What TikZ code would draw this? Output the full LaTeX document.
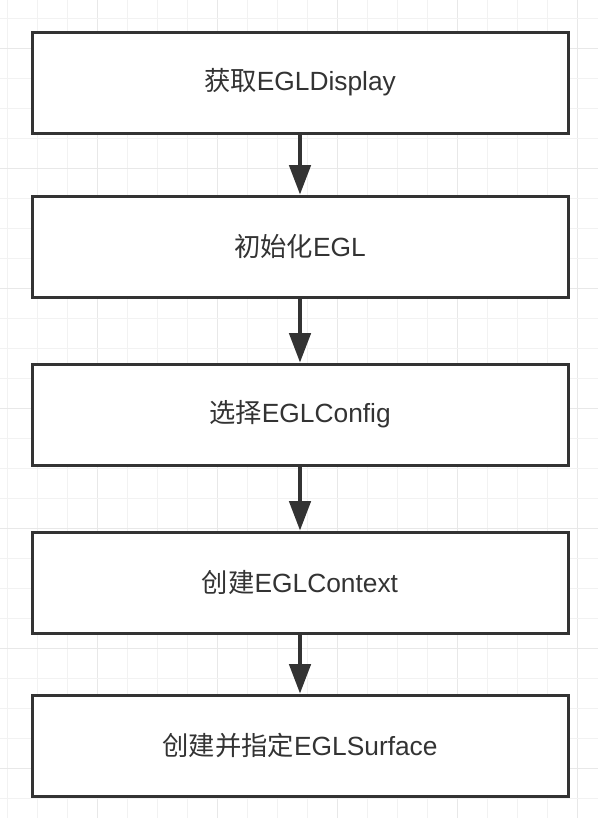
\documentclass[tikz,border=0pt]{standalone}
\usepackage{fontspec}
\setmainfont{Liberation Sans}
\newfontfamily\cjk{Noto Sans CJK SC}
\usetikzlibrary{arrows.meta}
\definecolor{gridlight}{HTML}{F2F2F2}
\definecolor{griddark}{HTML}{E8E8E8}
\definecolor{boxline}{HTML}{333333}
\definecolor{boxtext}{HTML}{333333}

\begin{document}
\begin{tikzpicture}[x=0.75pt,y=-0.75pt,
  stepbox/.style={draw=boxline,line width=2.25pt,fill=white,minimum width=402pt,minimum height=75.75pt,inner sep=0pt,text=boxtext,font=\fontsize{19.75}{24}\selectfont},
  flow/.style={draw=boxline,line width=2.6pt,-{Triangle[length=22pt,width=16pt]}}]
\useasboundingbox (0,0) rectangle (598,818);

% background grid
\foreach \k in {0,...,19}
  {\pgfmathtruncatemacro{\m}{mod(\k,4)}
   \ifnum\m=3 \draw[griddark,line width=0.75pt] (7+30*\k,0) -- (7+30*\k,818);
   \else \draw[gridlight,line width=0.75pt] (7+30*\k,0) -- (7+30*\k,818); \fi}
\foreach \k in {0,...,26}
  {\pgfmathtruncatemacro{\m}{mod(\k,4)}
   \ifnum\m=1 \draw[griddark,line width=0.75pt] (0,18+30*\k) -- (598,18+30*\k);
   \else \draw[gridlight,line width=0.75pt] (0,18+30*\k) -- (598,18+30*\k); \fi}

% steps
\node[stepbox] (display) at (300,82.5) {{\cjk 获取}EGLDisplay};
\node[stepbox] (init) at (300,246.5) {{\cjk 初始化}EGL};
\node[stepbox] (config) at (300,414.5) {{\cjk 选择}EGLConfig};
\node[stepbox] (context) at (300,582.5) {{\cjk 创建}EGLContext};
\node[stepbox] (surface) at (300,745.5) {{\cjk 创建并指定}EGLSurface};

\draw[flow] (display) -- (init);
\draw[flow] (init) -- (config);
\draw[flow] (config) -- (context);
\draw[flow] (context) -- (surface);

\end{tikzpicture}
\end{document}
